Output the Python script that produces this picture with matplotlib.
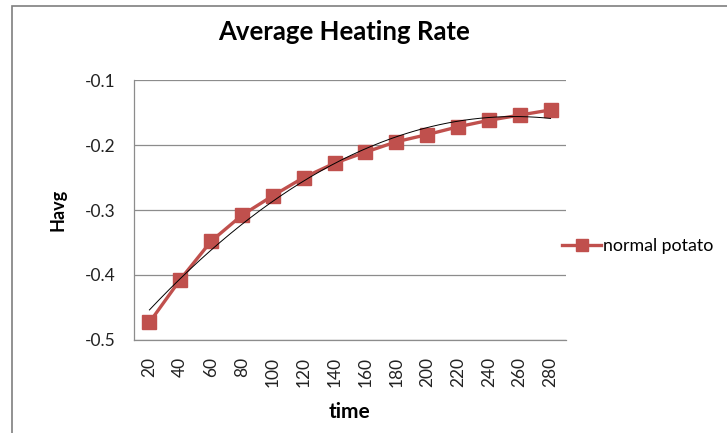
import numpy as np
import matplotlib
matplotlib.use("Agg")
import matplotlib.pyplot as plt
from matplotlib.patches import Rectangle

plt.rcParams['font.family'] = ['Lato', 'DejaVu Sans']

# data
time = [20, 40, 60, 80, 100, 120, 140, 160, 180, 200, 220, 240, 260, 280]
havg = [-0.473, -0.407, -0.348, -0.308, -0.278, -0.250, -0.228,
        -0.211, -0.195, -0.184, -0.172, -0.162, -0.154, -0.146]
y_ticks = [-0.5, -0.4, -0.3, -0.2, -0.1]

red = '#C0504D'

fig = plt.figure(figsize=(7.27, 4.33), dpi=100)
ax = fig.add_axes([0.1843, 0.2148, 0.5942, 0.6004])

# category axis: positions 0..n-1
xs = np.arange(len(time))
line, = ax.plot(xs, havg, color=red, lw=2.4, marker='s', markersize=10,
                markeredgecolor=red, label='normal potato', zorder=3)

# 2nd order polynomial trendline (Excel style)
coef = np.polyfit(xs, havg, 2)
xt = np.linspace(xs[0], xs[-1], 200)
ax.plot(xt, np.polyval(coef, xt), color='black', lw=0.7, zorder=4)

ax.set_xlim(-0.5, len(time) - 0.5)
ax.set_ylim(-0.5, -0.1)
ax.set_yticks(y_ticks)
ax.set_yticklabels([f'{v:g}' for v in y_ticks], fontsize=12.5, color='#222222')
ax.set_xticks(xs)
ax.set_xticklabels([str(t) for t in time], rotation=90, fontsize=12.5, color='#222222')
ax.tick_params(axis='y', length=0, pad=13)
ax.tick_params(axis='x', length=0, pad=12)

ax.grid(axis='y', color='#8c8c8c', lw=0.9)
ax.set_axisbelow(True)
for s in ['top', 'right']:
    ax.spines[s].set_visible(False)
for s in ['left', 'bottom']:
    ax.spines[s].set_color('#8c8c8c')
    ax.spines[s].set_linewidth(0.9)

fig.text(0.473, 0.925, 'Average Heating Rate', ha='center', va='center',
         fontsize=18.5, fontweight='bold')
fig.text(0.481, 0.048, 'time', ha='center', va='center', fontsize=15, fontweight='bold')
fig.text(0.08, 0.515, 'Havg', ha='center', va='center', rotation=90,
         fontsize=13, fontweight='bold')

fig.legend(handles=[line], loc='center left', bbox_to_anchor=(0.751, 0.432),
           frameon=False, fontsize=12.8, handlelength=2.2, handletextpad=0.1,
           markerscale=0.8)

# outer chart border (runs off the right/bottom edge like the reference)
fig.patches.append(Rectangle((12 / 727, -0.1), 1.0, 1.1 - 6 / 433,
                             transform=fig.transFigure, fill=False,
                             edgecolor='#7f7f7f', lw=1.2))

fig.savefig('out.png', dpi=100)
